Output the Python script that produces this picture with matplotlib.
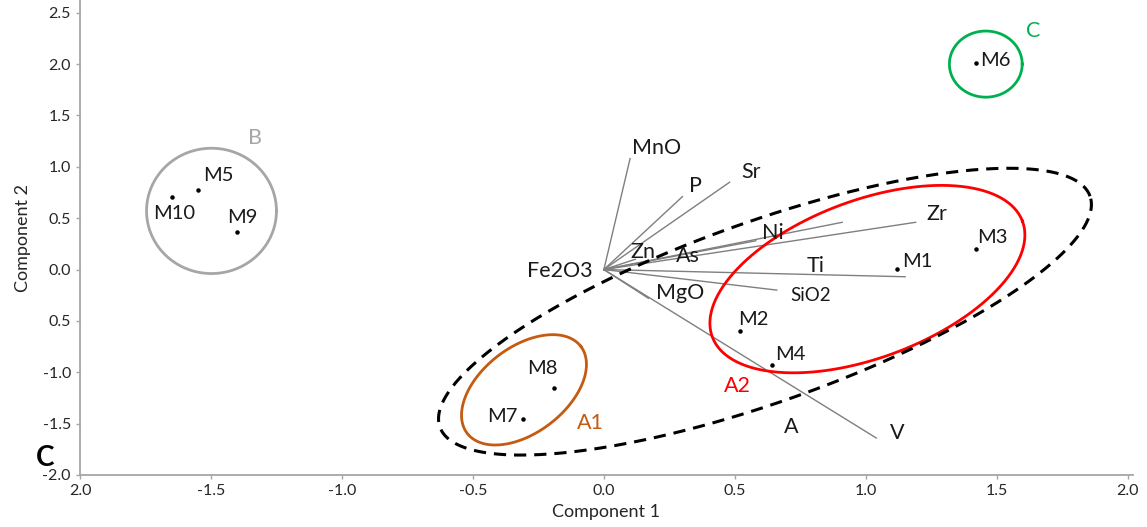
import numpy as np
import matplotlib
matplotlib.use('Agg')
import matplotlib.pyplot as plt

plt.rcParams['font.family'] = ['Lato', 'DejaVu Sans']

# Sample scores
samples = ['M1', 'M2', 'M3', 'M4', 'M5', 'M6', 'M7', 'M8', 'M9', 'M10']
comp1 = [1.12, 0.52, 1.42, 0.64, -1.55, 1.42, -0.31, -0.19, -1.40, -1.65]
comp2 = [0.01, -0.60, 0.20, -0.93, 0.77, 2.01, -1.45, -1.15, 0.37, 0.71]
# label offsets in pixels (dx, dy, ha)
sample_offsets = {
    'M1': (5, 7, 'left'), 'M2': (-2, 12, 'left'), 'M3': (1, 12, 'left'),
    'M4': (4, 11, 'left'), 'M5': (5, 15, 'left'), 'M6': (4, 3, 'left'),
    'M7': (-5, 2, 'right'), 'M8': (-12, 19, 'center'), 'M9': (5, 14, 'center'),
    'M10': (3, -17, 'center'),
}

# Variable loadings
variables = ['MnO', 'P', 'Sr', 'Zn', 'As', 'Ni', 'Zr', 'Ti', 'SiO2', 'MgO', 'V', 'Fe2O3']
load1 = [0.10, 0.30, 0.48, 0.12, 0.58, 0.91, 1.19, 1.15, 0.66, 0.17, 1.04, 0.0]
load2 = [1.08, 0.71, 0.85, 0.10, 0.28, 0.46, 0.46, -0.07, -0.20, -0.28, -1.64, 0.0]
# variable label positions (data units)
var_label_x = [0.20, 0.35, 0.56, 0.15, 0.32, 0.645, 1.27, 0.81, 0.79, 0.29, 1.12, -0.17]
var_label_y = [1.18, 0.81, 0.95, 0.17, 0.13, 0.36, 0.54, 0.03, -0.25, -0.23, -1.59, -0.01]
extra_label = ('A', 0.714, -1.53)

# Group ellipses: center, first axis vector, second axis vector (data units)
groups = ['A1', 'A2', 'B', 'C', 'all']
g_center = [(-0.305, -1.171), (1.006, -0.093), (-1.498, 0.571), (1.458, 2.0), (0.615, -0.410)]
g_axis1 = [(0.217, 0.423), (0.592, 0.563), (0.248, 0.0), (0.139, 0.0), (1.241, 1.124)]
g_axis2 = [(-0.099, 0.331), (-0.105, 0.718), (0.0, 0.610), (0.0, 0.322), (-0.115, 0.828)]
g_colors = ['#c55a11', '#ff0000', '#a6a6a6', '#00b050', 'black']
g_label_xy = [(-0.05, -1.49), (0.51, -1.13), (-1.33, 1.28), (1.64, 2.32), None]

fig = plt.figure(figsize=(11.47, 5.27), dpi=100)
ax = fig.add_axes([80 / 1147, 52 / 527, 1053 / 1147, 475 / 527])

# ellipses
t = np.linspace(0, 2 * np.pi, 400)
for name, c, u, v, col, lxy in zip(groups, g_center, g_axis1, g_axis2, g_colors, g_label_xy):
    ex = c[0] + u[0] * np.cos(t) + v[0] * np.sin(t)
    ey = c[1] + u[1] * np.cos(t) + v[1] * np.sin(t)
    if name == 'all':
        ax.plot(ex, ey, color=col, lw=2.2, dashes=(4, 2.6), zorder=2)
    else:
        ax.plot(ex, ey, color=col, lw=2.0, zorder=2)
        ax.text(lxy[0], lxy[1], name, color=col, fontsize=15.5, ha='center', va='center')

# loading vectors
for name, x, y, lx, ly in zip(variables, load1, load2, var_label_x, var_label_y):
    ax.plot([0, x], [0, y], color='#7f7f7f', lw=1.0, zorder=1)
    ax.text(lx, ly, name, fontsize=15.5 if name != 'SiO2' else 13.5, color='#1a1a1a',
            ha='center', va='center', zorder=3)
ax.text(extra_label[1], extra_label[2], extra_label[0], fontsize=15.5, color='#1a1a1a',
        ha='center', va='center')

# sample points
ax.scatter(comp1, comp2, s=5, color='black', zorder=4)
for name, x, y in zip(samples, comp1, comp2):
    dx, dy, ha = sample_offsets[name]
    ax.annotate(name, (x, y), xytext=(dx, dy), textcoords='offset pixels',
                fontsize=14.5, color='#1a1a1a', ha=ha, va='center')

ax.set_xlim(-2.0, 2.02)
ax.set_ylim(-2.0, 2.624)
xt = [-2.0, -1.5, -1.0, -0.5, 0.0, 0.5, 1.0, 1.5, 2.0]
ax.set_xticks(xt)
ax.set_xticklabels(['2.0', '-1.5', '-1.0', '-0.5', '0.0', '0.5', '1.0', '1.5', '2.0'])
yt = [-2.0, -1.5, -1.0, -0.5, 0.0, 0.5, 1.0, 1.5, 2.0, 2.5]
ax.set_yticks(yt)
ax.set_yticklabels(['-2.0', '-1.5', '-1.0', '0.5', '0.0', '0.5', '1.0', '1.5', '2.0', '2.5'])
ax.tick_params(colors='#a6a6a6', labelcolor='#262626', labelsize=11.5, length=3, width=1)
for s in ['top', 'right']:
    ax.spines[s].set_visible(False)
for s in ['left', 'bottom']:
    ax.spines[s].set_color('#a6a6a6')
    ax.spines[s].set_linewidth(1.3)

ax.set_xlabel('Component 1', fontsize=13, color='#262626', labelpad=4)
ax.set_ylabel('Component 2', fontsize=13, color='#262626', labelpad=8)

fig.text(45 / 1147, 1 - 458 / 527, 'C', fontsize=20, fontweight='bold', ha='center', va='center')

fig.savefig('out.png', dpi=100)
